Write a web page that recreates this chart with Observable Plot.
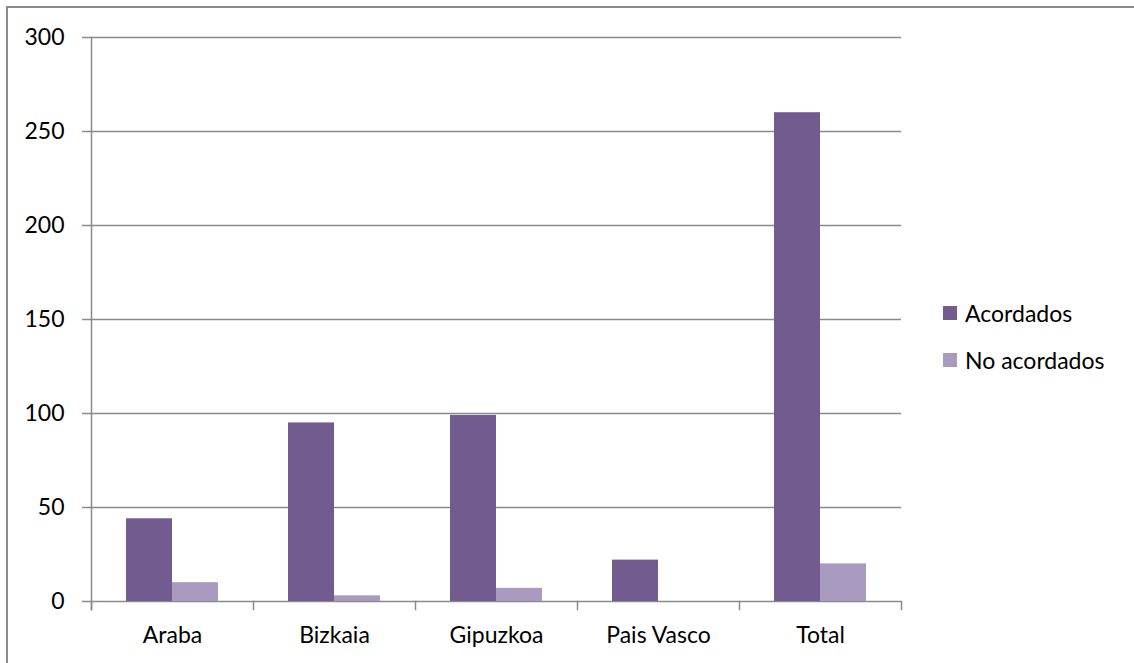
<!DOCTYPE html>
<html>
<head>
<meta charset="utf-8">
<script src="https://cdn.jsdelivr.net/npm/d3@7"></script>
<script src="https://cdn.jsdelivr.net/npm/@observablehq/plot@0.6"></script>
<style>
  html, body { margin: 0; padding: 0; background: #fff; overflow: hidden; }
  #wrap { position: relative; width: 1134px; height: 663px; font-family: Lato, sans-serif; }
  #border { position: absolute; left: 6px; top: 6px; width: 2000px; height: 2000px; border: 2px solid #8c8c8c; box-sizing: border-box; }
  #chart { position: absolute; left: 0; top: 0; }
  #legend { position: absolute; left: 943px; top: 299px; font-size: 23px; color: #000; }
  .item { display: flex; align-items: center; height: 28px; margin-bottom: 19px; white-space: nowrap; }
  .sw { width: 14px; height: 14px; margin-right: 8px; }
</style>
</head>
<body>
<div id="wrap">
  <div id="border"></div>
  <div id="chart"></div>
  <div id="legend"></div>
</div>
<script>
const categories = ["Araba", "Bizkaia", "Gipuzkoa", "Pais Vasco", "Total"];
const series = ["Acordados", "No acordados"];
const acordados = [44, 95, 99, 22, 260];
const noAcordados = [10, 3, 7, 0, 20];
const yTicks = [0, 50, 100, 150, 200, 250, 300];
const colors = ["#725b8f", "#a99bbf"];

const data = categories.flatMap((c, i) => [
  {cat: c, series: series[0], value: acordados[i]},
  {cat: c, series: series[1], value: noAcordados[i]}
]);

const W = 1134, H = 663, mL = 90, mR = 232, mT = 37, mB = 62;
const grey = "#8a8a8a";

const plot = Plot.plot({
  width: W, height: H,
  marginLeft: mL, marginRight: mR, marginTop: mT, marginBottom: mB,
  style: {fontFamily: "Lato, sans-serif", fontSize: "23px", color: "#000", background: "transparent"},
  fx: {domain: categories, padding: 0, label: null},
  x: {domain: series, paddingInner: 0, paddingOuter: 0.75, axis: null},
  y: {domain: [0, 300], axis: null, label: null},
  color: {domain: series, range: colors},
  marks: [
    Plot.gridY(yTicks, {stroke: grey, strokeOpacity: 1, strokeWidth: 1.5}),
    Plot.barY(data.filter(d => d.value > 0), {fx: "cat", x: "series", y: "value", fill: "series"}),
    Plot.frame({anchor: "left", facetAnchor: "left", stroke: grey, strokeWidth: 1.5, insetBottom: -8}),
    Plot.frame({anchor: "left", stroke: grey, strokeWidth: 1.5, insetTop: H - mT - mB, insetBottom: -8}),
    Plot.frame({anchor: "right", facetAnchor: "right", stroke: grey, strokeWidth: 1.5, insetTop: H - mT - mB, insetBottom: -8}),
    Plot.axisY(yTicks, {label: null, tickSize: 9, tickPadding: 18, stroke: grey, strokeWidth: 1.5, fill: "#000", fontSize: 23, tickFormat: d => String(d)}),
    Plot.axisFx({anchor: "bottom", label: null, tickSize: 0, tickPadding: 25, fontSize: 23, fill: "#000"})
  ]
});
document.getElementById("chart").appendChild(plot);

const color = plot.scale("color");
const legend = document.getElementById("legend");
series.forEach((s) => {
  const item = document.createElement("div");
  item.className = "item";
  const sw = document.createElement("div");
  sw.className = "sw";
  sw.style.background = color.apply(s);
  const t = document.createElement("span");
  t.textContent = s;
  item.appendChild(sw);
  item.appendChild(t);
  legend.appendChild(item);
});
</script>
</body>
</html>
